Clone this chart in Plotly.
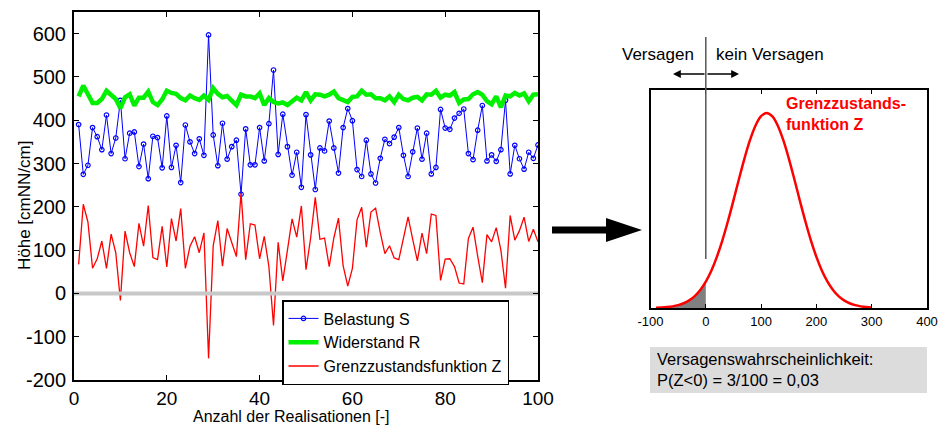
import plotly.graph_objects as go

W, H = 942, 425

# ---------------- data (left chart) ----------------
realisation = list(range(1, 101))
belastung_S = [390, 275, 296, 383, 362, 332, 412, 323, 359, 446,
               311, 370, 373, 293, 345, 265, 363, 360, 290, 410,
               291, 342, 256, 389, 350, 323, 357, 319, 597, 366,
               295, 393, 310, 339, 354, 229, 380, 297, 297, 383,
               306, 392, 516, 321, 414, 339, 273, 326, 245, 413,
               320, 240, 336, 329, 398, 336, 278, 383, 427, 399,
               286, 270, 354, 276, 255, 312, 356, 346, 361, 383,
               319, 270, 327, 382, 310, 370, 276, 291, 425, 382,
               379, 405, 416, 426, 323, 309, 377, 434, 306, 320,
               305, 332, 446, 276, 342, 311, 287, 326, 312, 343]
widerstand_R = [455, 480, 460, 440, 440, 449, 468, 458, 449, 428,
                453, 460, 434, 452, 452, 466, 442, 435, 448, 468,
                463, 461, 451, 446, 457, 451, 447, 457, 447, 474,
                461, 453, 456, 445, 435, 459, 455, 455, 451, 462,
                435, 451, 442, 439, 441, 435, 442, 452, 446, 465,
                446, 460, 459, 455, 459, 466, 451, 446, 442, 454,
                455, 468, 459, 460, 451, 451, 446, 455, 442, 459,
                449, 446, 452, 454, 446, 460, 459, 468, 452, 459,
                457, 465, 440, 448, 449, 460, 465, 459, 444, 437,
                455, 430, 457, 455, 463, 457, 462, 444, 459, 460]
grenz_Z = [67, 206, 165, 58, 80, 121, 58, 137, 94, -16,
           144, 94, 62, 162, 109, 203, 83, 78, 155, 61,
           173, 121, 196, 58, 109, 131, 94, 140, -150, 110,
           168, 63, 150, 115, 85, 232, 78, 161, 158, 80,
           132, 62, -74, 118, 29, 100, 172, 130, 202, 55,
           128, 222, 125, 128, 62, 128, 174, 64, 17, 58,
           170, 199, 107, 188, 197, 141, 92, 110, 82, 78,
           130, 177, 125, 75, 139, 92, 183, 180, 30, 79,
           80, 62, 24, 22, 127, 153, 86, 25, 136, 119,
           152, 100, 12, 180, 123, 145, 176, 120, 148, 119]
zero_x = [0, 100]
zero_y = [0, 0]
left_xticks = [0, 20, 40, 60, 80, 100]
left_yticks = [-200, -100, 0, 100, 200, 300, 400, 500, 600]

# ---------------- data (right chart) ----------------
z_values = [-90, -80, -70, -60, -50, -40, -30, -20, -10, 0,
            10, 20, 30, 40, 50, 60, 70, 80, 90, 100,
            110, 120, 130, 140, 150, 160, 170, 180, 190, 200,
            210, 220, 230, 240, 250, 260, 270, 280, 290, 300]
density = [0.0013, 0.0026, 0.0047, 0.0084, 0.0145, 0.0243, 0.0392, 0.0612, 0.0926, 0.1353,
           0.1915, 0.2622, 0.3472, 0.4449, 0.5516, 0.6615, 0.7676, 0.8618, 0.9360, 0.9836,
           1.0, 0.9836, 0.9360, 0.8618, 0.7676, 0.6615, 0.5516, 0.4449, 0.3472, 0.2622,
           0.1915, 0.1353, 0.0926, 0.0612, 0.0392, 0.0243, 0.0145, 0.0084, 0.0047, 0.0026]
right_xticks = [-100, 0, 100, 200, 300, 400]

FONT = "Liberation Sans, Arial, sans-serif"


def px(x):
    return x / W


def py(y):
    return (H - y) / H


fig = go.Figure()

fig.add_trace(go.Scatter(x=realisation, y=belastung_S, mode="lines+markers",
                         name="Belastung S",
                         line=dict(color="#0000ff", width=1),
                         marker=dict(symbol="circle-open", size=4.5, color="#0000ff",
                                     line=dict(width=1.2)),
                         xaxis="x", yaxis="y"))
fig.add_trace(go.Scatter(x=realisation, y=widerstand_R, mode="lines",
                         name="Widerstand R",
                         line=dict(color="#00f000", width=4.5),
                         xaxis="x", yaxis="y"))
fig.add_trace(go.Scatter(x=realisation, y=grenz_Z, mode="lines",
                         name="Grenzzustandsfunktion Z",
                         line=dict(color="#ff0000", width=1.3),
                         xaxis="x", yaxis="y"))
fig.add_trace(go.Scatter(x=zero_x, y=zero_y, mode="lines", showlegend=False,
                         line=dict(color="#c8c8c8", width=4),
                         xaxis="x", yaxis="y", hoverinfo="skip"))

# right chart
n_fail = sum(1 for v in z_values if v <= 0)
fig.add_trace(go.Scatter(x=z_values[:n_fail], y=density[:n_fail], mode="lines",
                         fill="tozeroy", fillcolor="#808080", showlegend=False,
                         line=dict(color="#505050", width=1, shape="spline"),
                         xaxis="x2", yaxis="y2", hoverinfo="skip"))
fig.add_trace(go.Scatter(x=z_values, y=density, mode="lines", showlegend=False,
                         line=dict(color="#ff0000", width=2.5, shape="spline"),
                         xaxis="x2", yaxis="y2"))

axis_common = dict(showline=True, linecolor="black", mirror="ticks", ticks="inside",
                   tickcolor="black", showgrid=False, zeroline=False, automargin=False)

fig.update_layout(
    width=W, height=H, autosize=False,
    margin=dict(l=0, r=0, t=0, b=0, pad=0),
    paper_bgcolor="white", plot_bgcolor="white",
    font=dict(family=FONT, color="black"),
    xaxis=dict(domain=[px(74), px(538)], range=[0, 100], tickvals=left_xticks,
               ticktext=[str(v) for v in left_xticks],
               tickfont=dict(family=FONT, size=19, color="black"),
               ticklen=5, linewidth=2, anchor="y", ticklabelstandoff=0, **axis_common),
    yaxis=dict(domain=[py(380), py(12)], range=[-200, 650], tickvals=left_yticks,
               ticktext=[str(v) for v in left_yticks],
               tickfont=dict(family=FONT, size=20, color="black"),
               ticklen=5, linewidth=2, anchor="x", ticklabelstandoff=2, **axis_common),
    xaxis2=dict(domain=[px(650.5), px(927)], range=[-100, 400], tickvals=right_xticks,
                ticktext=[str(v) for v in right_xticks],
                ticklen=4, linewidth=2, anchor="y2", automargin=False,
                showline=True, linecolor="black", mirror="ticks", ticks="inside",
                tickcolor="black", showgrid=False, zeroline=False,
                tickfont=dict(family=FONT, size=13, color="black")),
    yaxis2=dict(domain=[py(308), py(90)], range=[0, 1.118], showticklabels=False,
                ticks="", showline=True, linecolor="black", linewidth=2, mirror=True,
                showgrid=False, zeroline=False, anchor="x2", automargin=False),
    legend=dict(x=px(282), y=py(300), xanchor="left", yanchor="top",
                bordercolor="black", borderwidth=1.5, bgcolor="white",
                font=dict(family=FONT, size=16, color="black"),
                itemwidth=30, tracegroupgap=0),
    showlegend=True,
)

shapes = []
# vertical separator line at Z = 0
shapes.append(dict(type="line", xref="x2", yref="paper", x0=0, x1=0,
                   y0=py(259), y1=py(37), line=dict(color="#555555", width=1.5)))
# big black arrow
shapes.append(dict(type="line", xref="paper", yref="paper", x0=px(552), x1=px(610),
                   y0=py(230), y1=py(230), line=dict(color="black", width=7)))
shapes.append(dict(type="path", xref="paper", yref="paper",
                   path=f"M {px(606)} {py(218)} L {px(642)} {py(230)} L {px(606)} {py(242)} Z",
                   fillcolor="black", line=dict(color="black", width=0)))
# grey text box
shapes.append(dict(type="rect", xref="paper", yref="paper", x0=px(650), x1=px(927),
                   y0=py(393), y1=py(347), fillcolor="#dcdcdc", line=dict(width=0),
                   layer="below"))
fig.update_layout(shapes=shapes)

ann = []
ann.append(dict(text="Höhe [cmNN/cm]", xref="paper", yref="paper", x=px(24), y=py(206),
                textangle=-90, showarrow=False, font=dict(size=17),
                xanchor="center", yanchor="middle"))
ann.append(dict(text="Anzahl der Realisationen [-]", xref="paper", yref="paper",
                x=px(291), y=py(416), showarrow=False, font=dict(size=16),
                xanchor="center", yanchor="middle"))
ann.append(dict(text="Versagen", xref="paper", yref="paper", x=px(696), y=py(55),
                showarrow=False, font=dict(size=17), xanchor="right", yanchor="middle"))
ann.append(dict(text="kein Versagen", xref="paper", yref="paper", x=px(714), y=py(55),
                showarrow=False, font=dict(size=17), xanchor="left", yanchor="middle"))
ann.append(dict(text="", xref="paper", yref="paper", x=px(673), y=py(74),
                ax=33, ay=0, showarrow=True, arrowhead=2, arrowsize=1.2,
                arrowwidth=1.3, arrowcolor="black"))
ann.append(dict(text="", xref="paper", yref="paper", x=px(739), y=py(74),
                ax=-33, ay=0, showarrow=True, arrowhead=2, arrowsize=1.2,
                arrowwidth=1.3, arrowcolor="black"))
ann.append(dict(text="<b>Grenzzustands-<br>funktion Z</b>", xref="paper", yref="paper",
                x=px(784), y=py(114), showarrow=False, align="left",
                font=dict(size=16, color="#ff0000"), xanchor="left", yanchor="middle"))
ann.append(dict(text="Versagenswahrscheinlichkeit:<br>P(Z&lt;0) = 3/100 = 0,03",
                xref="paper", yref="paper", x=px(655), y=py(369), showarrow=False,
                align="left", font=dict(size=16.5), xanchor="left", yanchor="middle"))
fig.update_layout(annotations=ann)

fig.write_html("out.html", config={"displayModeBar": False},
               post_script="document.body.style.margin='0';document.body.style.overflow='hidden';")
